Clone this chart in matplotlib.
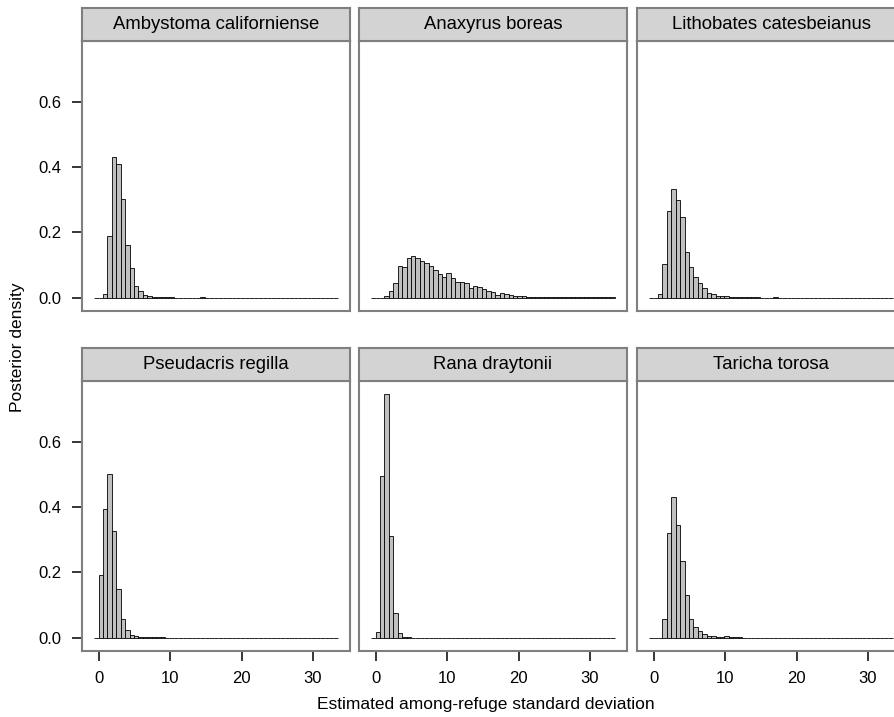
import matplotlib.pyplot as plt
import numpy as np

plt.rcParams['font.family'] = ['Liberation Sans', 'DejaVu Sans']

species = ["Ambystoma californiense", "Anaxyrus boreas", "Lithobates catesbeianus",
           "Pseudacris regilla", "Rana draytonii", "Taricha torosa"]

binwidth = 0.62
nbins = 55
edges = -0.62 + binwidth * np.arange(nbins + 1)

# posterior density per bin, starting at the first bin (-0.62..0); rest are zero
ambystoma = [0, 0, 0.012, 0.188, 0.432, 0.41, 0.302, 0.162, 0.09, 0.036, 0.021, 0.008,
             0.004, 0.002, 0.001, 0.001, 0.0005, 0.0005, 0, 0, 0, 0, 0, 0, 0.002]
anaxyrus = [0, 0, 0, 0.005, 0.02, 0.044, 0.098, 0.095, 0.122, 0.126, 0.121, 0.113, 0.105,
            0.098, 0.085, 0.072, 0.063, 0.075, 0.061, 0.049, 0.047, 0.044, 0.030, 0.037,
            0.033, 0.027, 0.020, 0.017, 0.008, 0.014, 0.010, 0.009, 0.005, 0.004, 0.005,
            0.003, 0.003, 0.002, 0.002, 0.001, 0.001, 0.002, 0.001, 0.001, 0.001, 0.001,
            0.001, 0.0005, 0.001, 0.0005, 0.001, 0.0005, 0.001, 0.0005, 0.001]
lithobates = [0, 0, 0.011, 0.104, 0.265, 0.334, 0.299, 0.246, 0.140, 0.095, 0.063, 0.044,
              0.029, 0.013, 0.011, 0.006, 0.005, 0.006, 0.003, 0.002, 0.002, 0.001, 0.001,
              0.0005, 0.0005, 0, 0, 0, 0.001]
pseudacris = [0, 0.191, 0.393, 0.5, 0.328, 0.148, 0.057, 0.023, 0.008, 0.006, 0.002,
              0.001, 0.001, 0.0005, 0.0005, 0.001]
rana = [0, 0.016, 0.495, 0.746, 0.311, 0.075, 0.015, 0.003, 0.001]
taricha = [0, 0, 0, 0.058, 0.32, 0.43, 0.344, 0.234, 0.13, 0.056, 0.034, 0.02, 0.012,
           0.006, 0.005, 0.002, 0.002, 0.004, 0.002, 0.001, 0.0005]

densities = [ambystoma, anaxyrus, lithobates, pseudacris, rana, taricha]

W, H = 894, 717
fig = plt.figure(figsize=(W / 100, H / 100), dpi=100)

col_left = [82, 359, 637]
row_top = [41, 381]
pw, ph = 268, 270
sh = 33
border = '#7f7f7f'


def px(l, t, w, h):
    return [l / W, 1 - (t + h) / H, w / W, h / H]


for i, name in enumerate(species):
    r, c = divmod(i, 3)
    ax = fig.add_axes(px(col_left[c], row_top[r], pw, ph))
    d = np.zeros(nbins)
    d[:len(densities[i])] = densities[i]
    ax.bar(edges[:-1], d, width=binwidth, align='edge', color='#c0c0c0',
           edgecolor='black', linewidth=0.6)
    ax.set_xlim(-2.32, 35.18)
    ax.set_ylim(-0.041, 0.786)
    for s in ax.spines.values():
        s.set_color(border)
        s.set_linewidth(1.5)
    ax.set_xticks([0, 10, 20, 30])
    ax.set_yticks([0, 0.2, 0.4, 0.6])
    ax.set_yticklabels(["0.0", "0.2", "0.4", "0.6"])
    ax.tick_params(length=7, width=1.1, color='black', labelsize=12, pad=7.5)
    if c != 0:
        ax.tick_params(axis='y', left=False, labelleft=False)
    if r != 1:
        ax.tick_params(axis='x', bottom=False, labelbottom=False)

    st = fig.add_axes(px(col_left[c], row_top[r] - sh, pw, sh))
    st.set_facecolor('#d3d3d3')
    st.set_xticks([])
    st.set_yticks([])
    for s in st.spines.values():
        s.set_color(border)
        s.set_linewidth(1.5)
    st.text(0.5, 0.5, name, ha='center', va='center', fontsize=13.3, transform=st.transAxes)

fig.text(18 / W, 1 - 347 / H, "Posterior density", rotation=90, ha='center', va='center', fontsize=12.5)
fig.text(486 / W, 1 - 704 / H, "Estimated among-refuge standard deviation", ha='center', va='center', fontsize=12.5)

plt.savefig("out.png", dpi=100)
